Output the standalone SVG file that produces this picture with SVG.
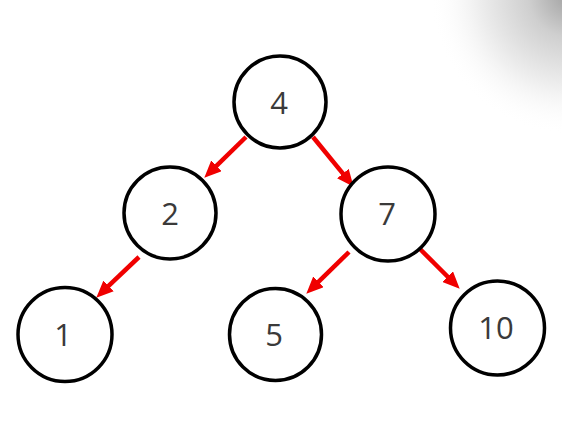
<svg xmlns="http://www.w3.org/2000/svg" width="562" height="421" viewBox="0 0 562 421">
  <defs>
    <radialGradient id="shade" cx="570" cy="-5" r="140" gradientUnits="userSpaceOnUse">
      <stop offset="0" stop-color="#a0a0a0"/>
      <stop offset="0.3" stop-color="#cfcfcf"/>
      <stop offset="0.7" stop-color="#f2f2f2"/>
      <stop offset="1" stop-color="#ffffff" stop-opacity="0"/>
    </radialGradient>
    <marker id="arrow" markerUnits="userSpaceOnUse" markerWidth="17" markerHeight="15" refX="4" refY="7.5" orient="auto">
      <path d="M0,0 L17,7.5 L0,15 z" fill="#f00000"/>
    </marker>
  </defs>
  <style>
    .node circle { fill: #ffffff; stroke: #000000; stroke-width: 3.5; }
    .node text { font-family: "Open Sans", "Noto Sans", "Liberation Sans", sans-serif; font-size: 31px; fill: #3a3a3a; text-anchor: middle; dominant-baseline: central; }
    .edge { stroke: #f00000; stroke-width: 4.5; fill: none; marker-end: url(#arrow); }
  </style>
  <rect width="562" height="421" fill="#ffffff"/>
  <rect width="562" height="421" fill="url(#shade)"/>
  <g id="connectors">
    <line class="edge" x1="246" y1="137" x2="213.6" y2="168.6"/>
    <line class="edge" x1="313" y1="137" x2="345.4" y2="176.7"/>
    <line class="edge" x1="139" y1="257" x2="105.7" y2="288.7"/>
    <line class="edge" x1="349" y1="252" x2="315.6" y2="284.6"/>
    <line class="edge" x1="419" y1="248" x2="450.5" y2="279.5"/>
  </g>
  <g id="node-4" class="node"><circle cx="280" cy="102" r="46"/><text x="279" y="102">4</text></g>
  <g id="node-2" class="node"><circle cx="170" cy="213" r="46"/><text x="170" y="213">2</text></g>
  <g id="node-7" class="node"><circle cx="388" cy="214" r="47"/><text x="387" y="213">7</text></g>
  <g id="node-1" class="node"><circle cx="65" cy="334.5" r="47"/><text x="63" y="334">1</text></g>
  <g id="node-5" class="node"><circle cx="275.5" cy="334.5" r="46"/><text x="274" y="334">5</text></g>
  <g id="node-10" class="node"><circle cx="497.5" cy="328" r="47"/><text x="496" y="327">10</text></g>
</svg>
